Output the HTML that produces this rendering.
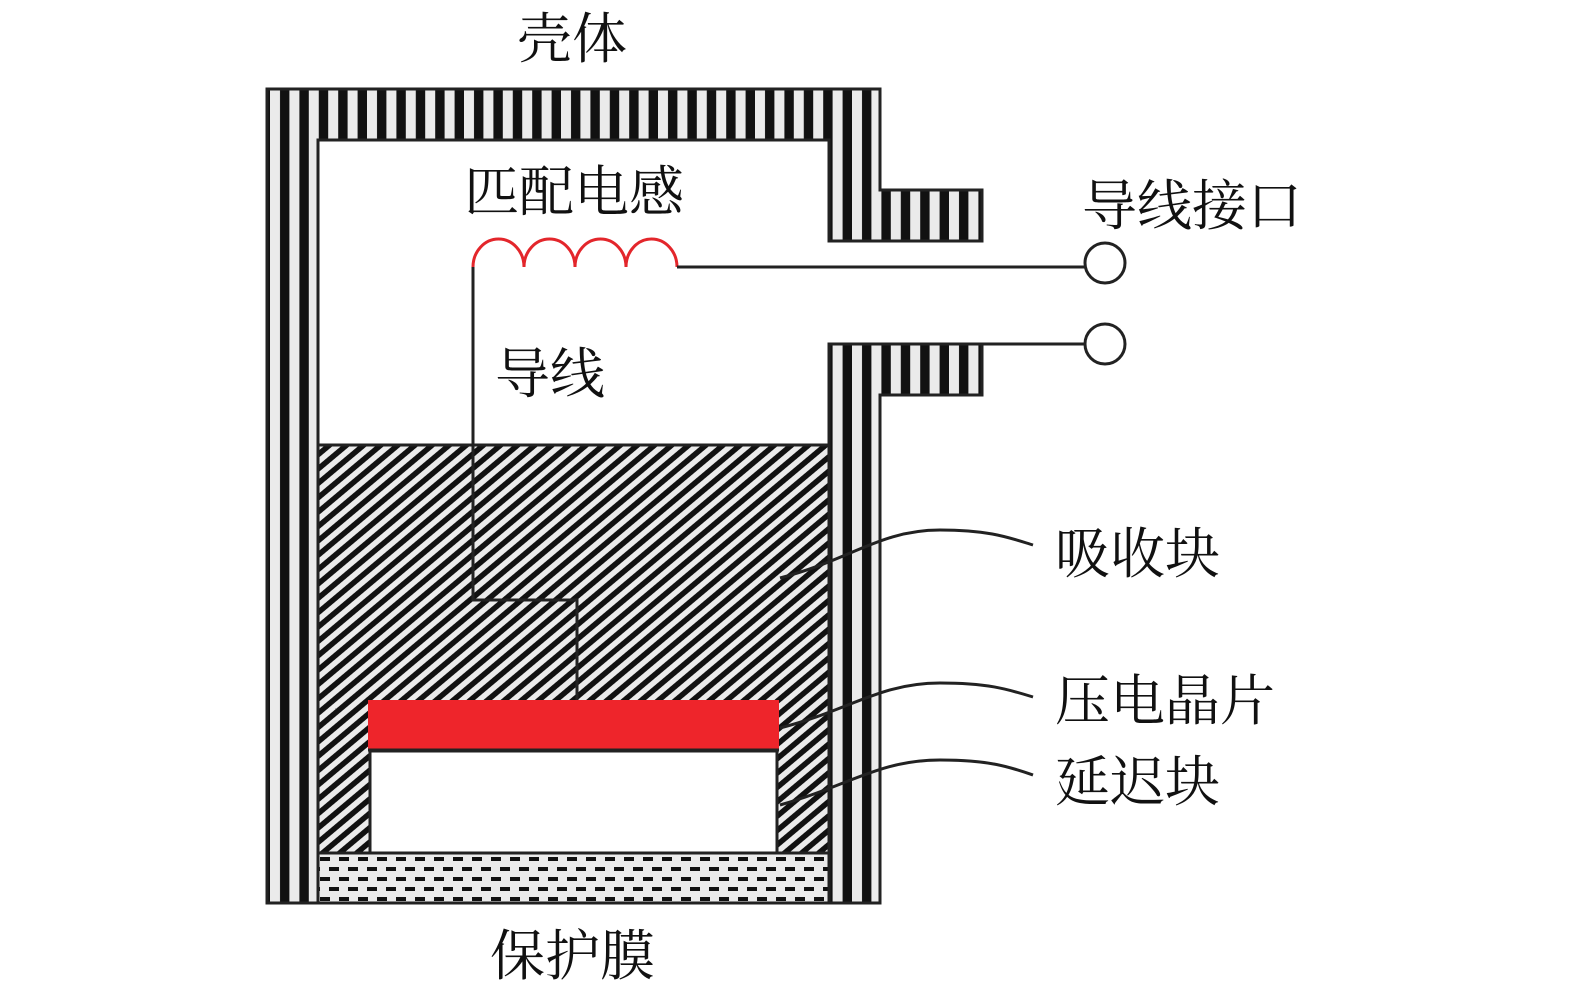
<!DOCTYPE html>
<html><head><meta charset="utf-8"><style>
html,body{margin:0;padding:0;background:#fff;}
svg{display:block;}
text{font-family:"Liberation Serif","Noto Serif CJK SC",serif;font-size:55px;fill:#111;}
</style></head><body>
<svg width="1575" height="1004" viewBox="0 0 1575 1004" xmlns="http://www.w3.org/2000/svg">
<defs>
<pattern id="vs" patternUnits="userSpaceOnUse" x="270" y="0" width="19.4" height="20">
<rect width="19.4" height="20" fill="#ebebeb"/><rect x="10" width="9.4" height="20" fill="#111"/>
</pattern>
<pattern id="dg" patternUnits="userSpaceOnUse" width="11" height="11" patternTransform="rotate(-40)">
<rect width="11" height="11" fill="#ebebeb"/><rect width="11" height="5.5" fill="#111"/>
</pattern>
<pattern id="dash" patternUnits="userSpaceOnUse" x="318" y="853" width="38" height="20">
<rect width="38" height="20" fill="#ebebeb"/><rect x="2" y="4" width="10" height="4" fill="#111"/><rect x="21" y="4" width="10" height="4" fill="#111"/><rect x="11" y="14" width="10" height="4" fill="#111"/><rect x="30" y="14" width="8" height="4" fill="#111"/><rect x="0" y="14" width="2" height="4" fill="#111"/>
</pattern>
</defs>
<path d="M267 89 H880 V190 H982 V241 H829 V140 H318 V903 H267 Z" fill="url(#vs)" stroke="#222" stroke-width="3"/>
<path d="M829 344 H982 V395 H880 V903 H829 Z" fill="url(#vs)" stroke="#222" stroke-width="3"/>
<line x1="267" y1="903" x2="880" y2="903" stroke="#222" stroke-width="3"/>
<rect x="318" y="445" width="511" height="408" fill="url(#dg)" stroke="#222" stroke-width="3"/>
<rect x="318" y="853" width="511" height="50" fill="url(#dash)" stroke="#222" stroke-width="3"/>
<rect x="370" y="751" width="407" height="102" fill="#fff" stroke="#222" stroke-width="3"/>
<rect x="368" y="700" width="411" height="50" fill="#ee252b"/>
<line x1="368" y1="750" x2="779" y2="750" stroke="#222" stroke-width="3"/>
<polyline points="473,267 473,600 577,600 577,700" fill="none" stroke="#222" stroke-width="3"/>
<path d="M473 267 A25.5 28 0 0 1 524 267 A25.5 28 0 0 1 575 267 A25.5 28 0 0 1 626 267 A25.5 28 0 0 1 677 267" fill="none" stroke="#e3262b" stroke-width="3"/>
<line x1="677" y1="267" x2="1085" y2="267" stroke="#222" stroke-width="3"/>
<line x1="982" y1="344" x2="1085" y2="344" stroke="#222" stroke-width="3"/>
<circle cx="1105" cy="263" r="20" fill="#fff" stroke="#222" stroke-width="3"/>
<circle cx="1105" cy="344" r="20" fill="#fff" stroke="#222" stroke-width="3"/>
<path d="M780 578 C850 560,880 530,940 530 C990 530,1010 538,1033 545" fill="none" stroke="#222" stroke-width="3"/>
<path d="M780 728 C850 710,880 683,940 683 C990 683,1010 690,1033 697" fill="none" stroke="#222" stroke-width="3"/>
<path d="M780 805 C850 785,880 760,940 760 C990 760,1010 767,1033 775" fill="none" stroke="#222" stroke-width="3"/>
<text x="517" y="58">壳体</text>
<text x="464" y="211">匹配电感</text>
<text x="1082" y="225">导线接口</text>
<text x="495" y="393">导线</text>
<text x="1055" y="573">吸收块</text>
<text x="1055" y="720">压电晶片</text>
<text x="1055" y="801">延迟块</text>
<text x="490" y="975">保护膜</text>
</svg>
</body></html>
